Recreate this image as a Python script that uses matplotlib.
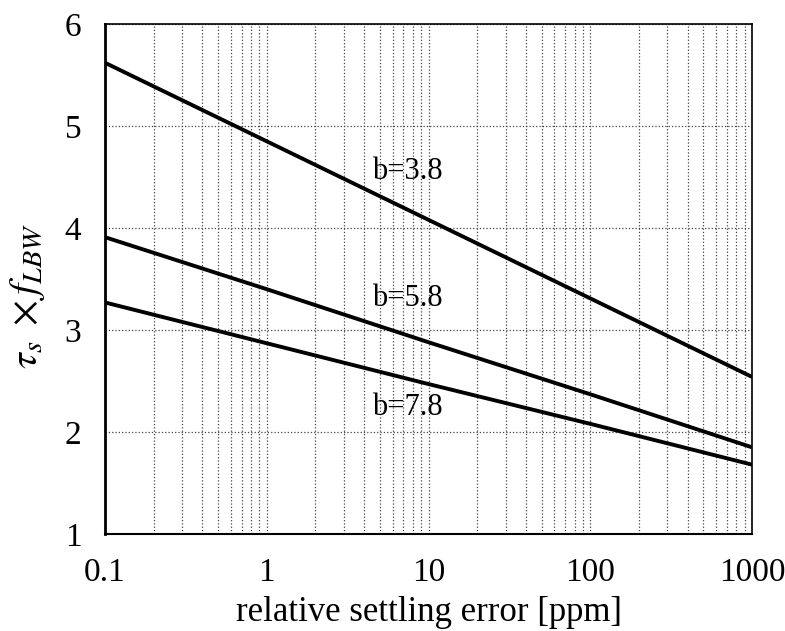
import numpy as np
import matplotlib
matplotlib.use("Agg")
import matplotlib.pyplot as plt
from matplotlib.ticker import LogLocator, NullFormatter

plt.rcParams['font.family'] = ['Liberation Serif', 'DejaVu Serif']
plt.rcParams['mathtext.fontset'] = 'stix'

# data
x_err = [0.1, 1, 10, 100, 1000]
b38 = [5.62, 4.85, 4.08, 3.31, 2.54]
b58 = [3.91, 3.40, 2.88, 2.37, 1.85]
b78 = [3.27, 2.87, 2.47, 2.08, 1.68]
labels = ["b=3.8", "b=5.8", "b=7.8"]
label_pos = [(7.4, 4.55), (7.4, 3.31), (7.4, 2.24)]
xticks = [0.1, 1, 10, 100, 1000]
xticklabels = ["0.1", "1", "10", "100", "1000"]
yticks = [1, 2, 3, 4, 5, 6]

fig = plt.figure(figsize=(7.85, 6.31), dpi=100)
ax = fig.add_axes([105/785, 1 - 534/631, (752-105)/785, (534-24)/631])

for ys in (b38, b58, b78):
    ax.plot(x_err, ys, color='black', lw=2.8, solid_capstyle='butt')

for lab, (xp, yp) in zip(labels, label_pos):
    ax.text(xp, yp, lab, fontsize=22, ha='center', va='center')

ax.set_xscale('log')
ax.set_xlim(0.1, 1000)
ax.set_ylim(1, 6)
ax.set_xticks(xticks)
ax.set_xticklabels(xticklabels)
ax.xaxis.set_minor_locator(LogLocator(base=10, subs=np.arange(2, 10)))
ax.xaxis.set_minor_formatter(NullFormatter())
ax.set_yticks(yticks)

ax.grid(True, which='major', axis='both', color='#444444', ls=':', lw=0.9)
ax.grid(True, which='minor', axis='x', color='#444444', ls=':', lw=0.9)
ax.tick_params(which='both', length=0, labelsize=24)
ax.tick_params(axis='x', pad=17)
ax.tick_params(axis='y', pad=17)

for s in ax.spines.values():
    s.set_linewidth(1.2)
ax.spines['left'].set_linewidth(2.0)
ax.spines['bottom'].set_linewidth(1.5)

ax.set_xlabel("relative settling error [ppm]", fontsize=25, labelpad=6)
ax.set_ylabel(r"$\tau_s\;\times f_{LBW}$", fontsize=29)
ax.yaxis.set_label_coords(-0.09, 0.467)

fig.savefig("out.png", dpi=100)
